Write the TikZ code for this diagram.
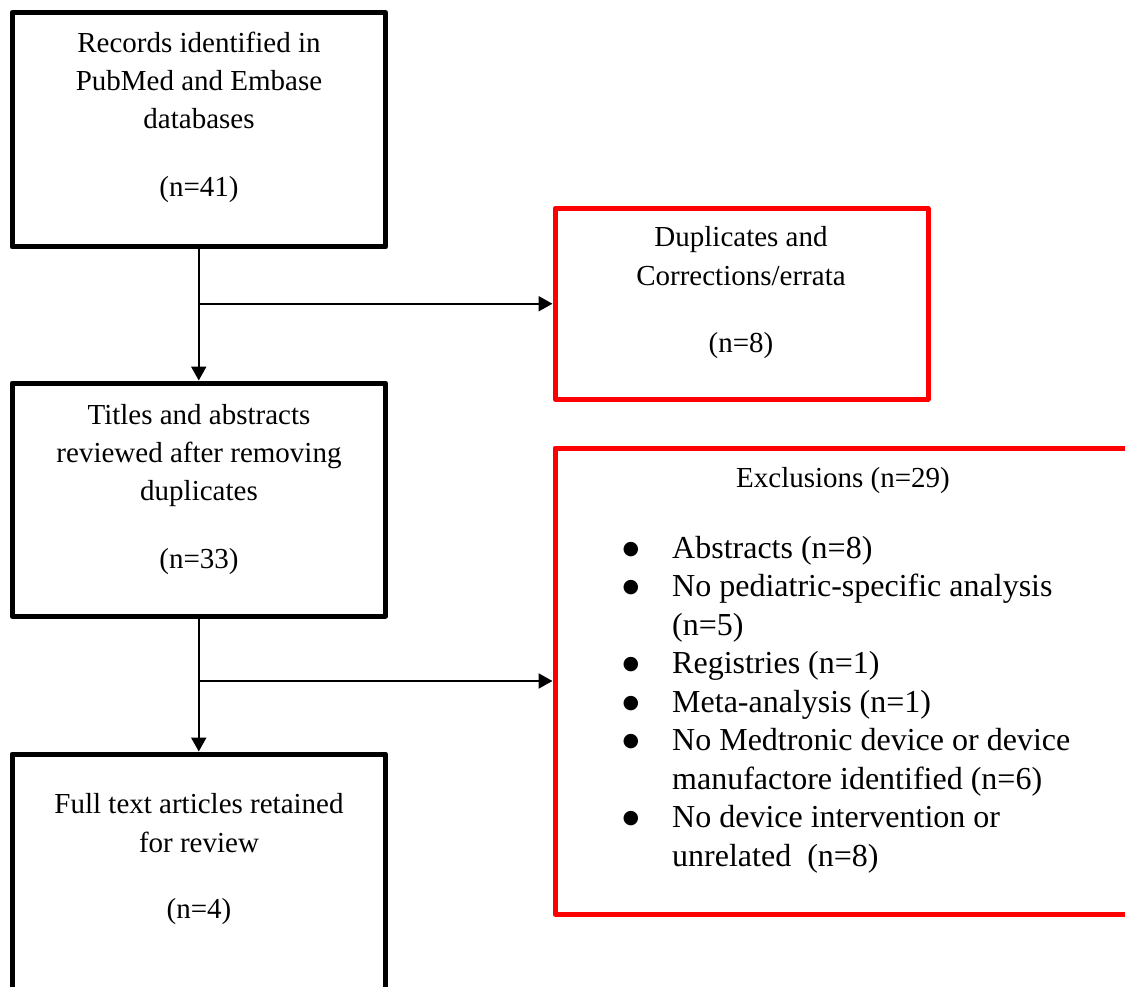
\documentclass[tikz,border=0pt]{standalone}
\usepackage{fontspec}
\setmainfont{Liberation Serif}
\newfontfamily\dvsans{DejaVu Sans}
\usetikzlibrary{arrows.meta}
\begin{document}
\begin{tikzpicture}[x=1pt,y=-1pt,
  blackbox/.style={draw=black, line width=5pt, inner sep=0pt, line join=round},
  redbox/.style={draw=red, line width=5pt, inner sep=0pt, line join=round},
  conn/.style={draw=black, line width=2.2pt, -{Triangle[length=14pt,width=15pt]}},
  txt/.style={font=\fontsize{29}{38}\selectfont, anchor=base, inner sep=0pt},
  btxt/.style={font=\fontsize{32}{38}\selectfont, anchor=base west, inner sep=0pt},
  bdot/.style={font=\dvsans\fontsize{19}{19}\selectfont, anchor=base, inner sep=0pt, yshift=4pt}]
\useasboundingbox (0,0) rectangle (1125,987);
\clip (0,0) rectangle (1125,987);
\fill[white] (0,0) rectangle (1125,987);

% boxes
\node[blackbox, minimum width=373.5pt, minimum height=234.5pt] (b1) at (198.75,129.75) {};
\node[redbox, minimum width=373pt, minimum height=190.5pt] (b2) at (741.5,303.75) {};
\node[blackbox, minimum width=373.5pt, minimum height=233pt] (b3) at (198.75,499.5) {};
\node[blackbox, minimum width=373.5pt, minimum height=240pt] (b4) at (198.75,874) {};
\node[redbox, minimum width=580pt, minimum height=466pt] (b5) at (845,681) {};

% box 1 text
\node[txt] (t1a) at (199,53) {Records identified in};
\node[txt] (t1b) at (199,91) {PubMed and Embase};
\node[txt] (t1c) at (199,129) {databases};
\node[txt] (t1d) at (199,197) {(n=41)};

% box 2 text
\node[txt] (t2a) at (741,247) {Duplicates and};
\node[txt] (t2b) at (741,286) {Corrections/errata};
\node[txt] (t2c) at (741,352) {(n=8)};

% box 3 text
\node[txt] (t3a) at (199,424) {Titles and abstracts};
\node[txt] (t3b) at (199,462) {reviewed after removing};
\node[txt] (t3c) at (199,500) {duplicates};
\node[txt] (t3d) at (199,568) {(n=33)};

% box 4 text
\node[txt] (t4a) at (199,813) {Full text articles retained};
\node[txt] (t4b) at (199,852) {for review};
\node[txt] (t4c) at (199,918) {(n=4)};

% box 5 text
\node[txt] (t5h) at (843,487) {Exclusions (n=29)};
\node[bdot] (d1) at (631,558) {●};
\node[btxt] (l1) at (672,558) {Abstracts (n=8)};
\node[bdot] (d2) at (631,596.5) {●};
\node[btxt] (l2) at (672,596.5) {No pediatric-specific analysis};
\node[btxt] (l2b) at (672,635) {(n=5)};
\node[bdot] (d3) at (631,673.5) {●};
\node[btxt] (l3) at (672,673.5) {Registries (n=1)};
\node[bdot] (d4) at (631,712) {●};
\node[btxt] (l4) at (672,712) {Meta-analysis (n=1)};
\node[bdot] (d5) at (631,750.5) {●};
\node[btxt] (l5) at (672,750.5) {No Medtronic device or device};
\node[btxt] (l5b) at (672,789) {manufactore identified (n=6)};
\node[bdot] (d6) at (631,827.5) {●};
\node[btxt] (l6) at (672,827.5) {No device intervention or};
\node[btxt] (l6b) at (672,866) {unrelated\ \ (n=8)};

% connectors
\coordinate (j1) at (b1.south |- b2.west);
\coordinate (j2) at (b3.south |- b5.west);
\draw[conn] (b1.south) -- (b3.north);
\draw[conn] (j1) -- (b2.west);
\draw[conn] (b3.south) -- (b4.north);
\draw[conn] (j2) -- (b5.west);
\end{tikzpicture}
\end{document}
